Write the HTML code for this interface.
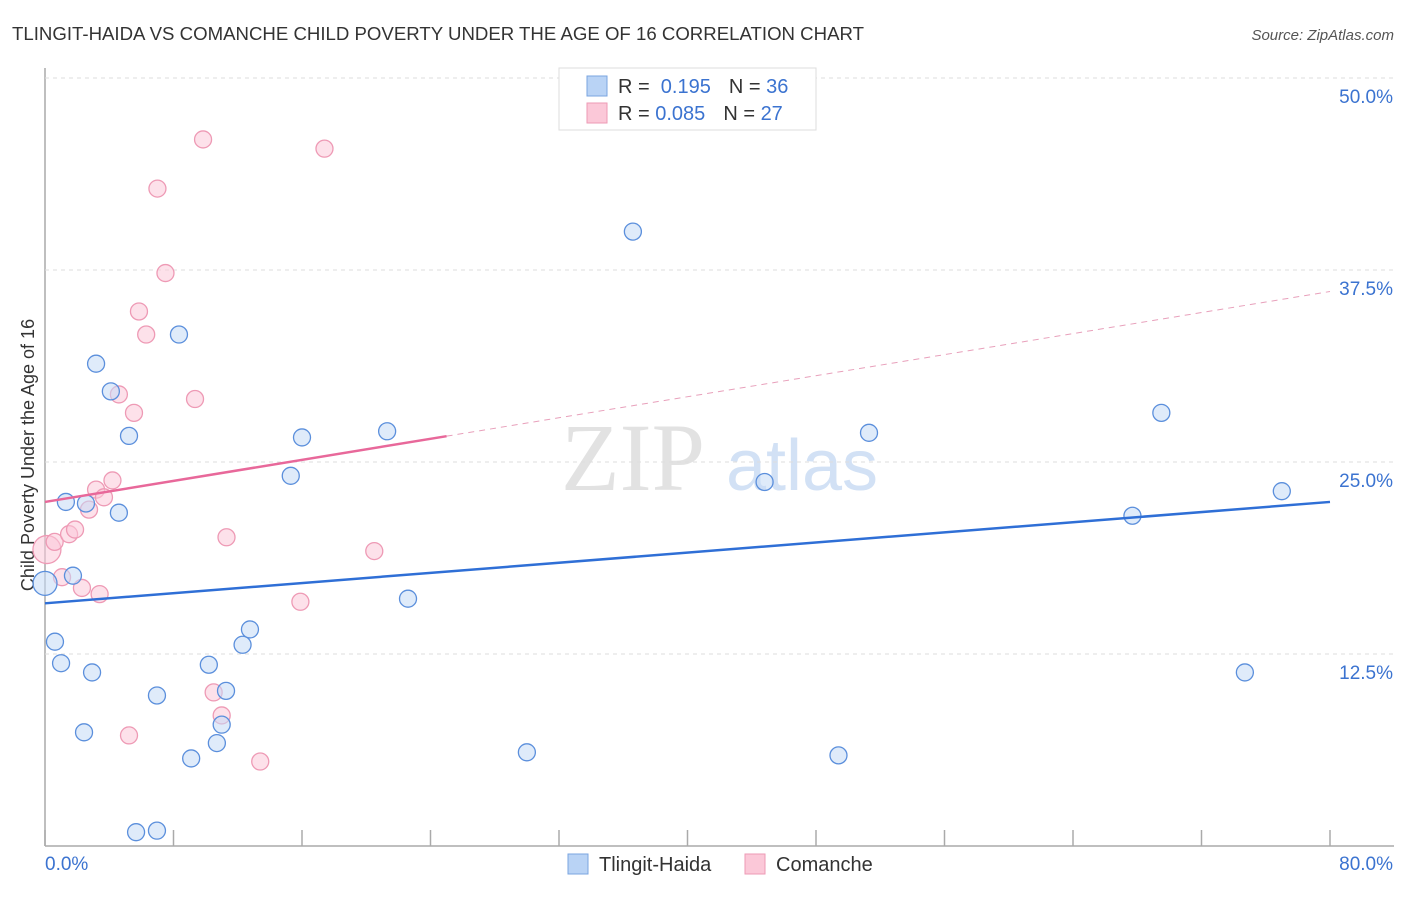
<!DOCTYPE html>
<html><head><meta charset="utf-8"><style>
body{margin:0;background:#fff;font-family:"Liberation Sans",sans-serif}
</style></head><body>
<svg id="c" width="1406" height="892" xmlns="http://www.w3.org/2000/svg">
<text x="12" y="40" font-size="18" fill="#333" textLength="852" lengthAdjust="spacingAndGlyphs">TLINGIT-HAIDA VS COMANCHE CHILD POVERTY UNDER THE AGE OF 16 CORRELATION CHART</text>
<text x="1394" y="40" font-size="15" fill="#555" font-style="italic" text-anchor="end">Source: ZipAtlas.com</text>
<text x="34" y="455" font-size="18" fill="#333" text-anchor="middle" transform="rotate(-90 34 455)">Child Poverty Under the Age of 16</text>
<g><text x="633" y="490" font-size="96" font-family="Liberation Serif" fill="#e2e2e2" text-anchor="middle">ZIP</text><text x="802" y="490" font-size="72" fill="#d2e1f5" text-anchor="middle">atlas</text></g>
<g id="grid"></g><g id="marks"></g>
<g>
<rect x="559" y="68" width="257" height="62" fill="#fff" stroke="#ddd"/>
<rect x="587" y="76" width="20" height="20" fill="#b9d3f5" stroke="#7aa5e0"/>
<rect x="587" y="103" width="20" height="20" fill="#fbc8d8" stroke="#ee9ab5"/>
<text x="618" y="93" font-size="20" fill="#333">R = <tspan fill="#3b73d0">&#160;0.195</tspan><tspan dx="18">N = </tspan><tspan fill="#3b73d0">36</tspan></text>
<text x="618" y="120" font-size="20" fill="#333">R = <tspan fill="#3b73d0">0.085</tspan><tspan dx="18">N = </tspan><tspan fill="#3b73d0">27</tspan></text>
</g>
<g>
<rect x="568" y="854" width="20" height="20" fill="#b9d3f5" stroke="#7aa5e0"/><text x="599" y="871" font-size="20" fill="#333">Tlingit-Haida</text>
<rect x="745" y="854" width="20" height="20" fill="#fbc8d8" stroke="#ee9ab5"/><text x="776" y="871" font-size="20" fill="#333">Comanche</text>
</g>
</svg>
<script>
const blueX=[0,0.62,1.0,1.3,1.74,2.43,2.55,2.93,3.18,4.1,4.6,5.23,5.67,6.97,6.97,8.34,9.1,10.2,10.7,11.0,11.27,12.3,12.76,15.3,16.0,21.3,22.6,30.0,36.6,44.8,49.4,51.3,67.7,69.5,74.7,77.0];
const blueY=[17.1,13.3,11.9,22.4,17.6,7.4,22.3,11.3,31.4,29.6,21.7,26.7,0.9,1.0,9.8,33.3,5.7,11.8,6.7,7.9,10.1,13.1,14.1,24.1,26.6,27.0,16.1,6.1,40.0,23.7,5.9,26.9,21.5,28.2,11.3,23.1];
const pinkX=[0.12,0.6,1.06,1.5,1.87,2.3,2.74,3.18,3.4,3.67,4.2,4.6,5.23,5.54,5.85,6.3,7.0,7.5,9.34,9.84,10.5,11.0,11.3,13.4,15.9,17.4,20.5];
const pinkY=[19.3,19.8,17.5,20.3,20.6,16.8,21.9,23.2,16.4,22.7,23.8,29.4,7.2,28.2,34.8,33.3,42.8,37.3,29.1,46.0,10.0,8.5,20.1,5.5,15.9,45.4,19.2];
const blueTrend=[15.8,22.4];
const pinkTrend=[22.4,36.1];
const pinkSolidEnd=25;
const yTicks=[12.5,25,37.5,50];
const yTickLabels=["12.5%","25.0%","37.5%","50.0%"];
const xTicks=[0,8,16,24,32,40,48,56,64,72,80];
const NS="http://www.w3.org/2000/svg";
const sx=v=>45+v/80*1285, sy=v=>846-v/50*768;
function mk(t,a,p){const e=document.createElementNS(NS,t);for(const k in a)e.setAttribute(k,a[k]);p.appendChild(e);return e;}
const g=document.getElementById('grid'), m=document.getElementById('marks');
const ax=mk('line',{x1:45,y1:68,x2:45,y2:846,stroke:'#aaa','stroke-width':1.5},g);


const bx=mk('line',{x1:45,y1:846,x2:1394,y2:846,stroke:'#aaa','stroke-width':1.5},g);


yTicks.forEach((v,i)=>{
 const l=mk('line',{x1:45,y1:sy(v),x2:1394,y2:sy(v),stroke:'#ddd','stroke-dasharray':'4,4'},g);
 
 
 const t=mk('text',{x:1393,y:sy(v)+25,'font-size':19,fill:'#3b73d0','text-anchor':'end'},g);
 t.textContent=yTickLabels[i];
 
 
});
xTicks.forEach(v=>{
 const l=mk('line',{x1:sx(v),y1:830,x2:sx(v),y2:846,stroke:'#aaa','stroke-width':1.5},g);
 
 
});
const x0=mk('text',{x:45,y:870,'font-size':19,fill:'#3b73d0'},g);x0.textContent='0.0%';


const x1=mk('text',{x:1393,y:870,'font-size':19,fill:'#3b73d0','text-anchor':'end'},g);x1.textContent='80.0%';


function pt(x,y,fill,stroke,name,r){
 const c=mk('circle',{cx:sx(x),cy:sy(y),r:r,fill:fill,'fill-opacity':0.55,stroke:stroke,'stroke-width':1.3},m);
 
 
}
pinkX.forEach((x,i)=>pt(x,pinkY[i],'#fbc8d8','#ee9ab5','comanche-point',i===0?14:8.5));
blueX.forEach((x,i)=>pt(x,blueY[i],'#c4daf6','#5b8fdc','tlingit-point',i===0?12:8.5));
const ptY=v=>pinkTrend[0]+(pinkTrend[1]-pinkTrend[0])*v/80;
const bl=mk('line',{x1:sx(0),y1:sy(blueTrend[0]),x2:sx(80),y2:sy(blueTrend[1]),stroke:'#2f6fd6','stroke-width':2.5},m);


const pl=mk('line',{x1:sx(0),y1:sy(ptY(0)),x2:sx(pinkSolidEnd),y2:sy(ptY(pinkSolidEnd)),stroke:'#e8689a','stroke-width':2.5},m);


const pd=mk('line',{x1:sx(pinkSolidEnd),y1:sy(ptY(pinkSolidEnd)),x2:sx(80),y2:sy(ptY(80)),stroke:'#e8a0bb','stroke-width':1,'stroke-dasharray':'6,5'},m);


</script>
</body></html>
